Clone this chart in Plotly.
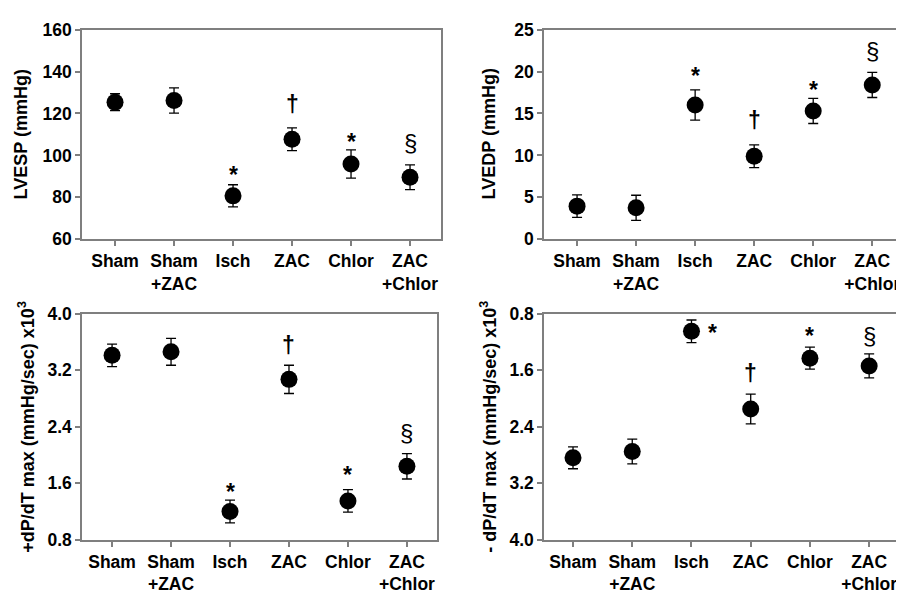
import plotly.graph_objects as go

groups = ["Sham", "Sham<br>+ZAC", "Isch", "ZAC", "Chlor", "ZAC<br>+Chlor"]

lvesp = [125.4, 126.2, 80.7, 107.7, 95.9, 89.6]
lvesp_err = [4.0, 6.0, 5.3, 5.4, 6.7, 5.9]
lvedp = [3.95, 3.75, 16.0, 9.9, 15.3, 18.4]
lvedp_err = [1.35, 1.5, 1.8, 1.35, 1.5, 1.5]
dpdt_pos = [3.41, 3.46, 1.20, 3.07, 1.35, 1.84]
dpdt_pos_err = [0.16, 0.19, 0.16, 0.20, 0.16, 0.18]
dpdt_neg = [2.84, 2.75, 1.05, 2.15, 1.43, 1.54]
dpdt_neg_err = [0.155, 0.175, 0.16, 0.21, 0.155, 0.17]

# significance marks: (group index, symbol, y position)
marks_lvesp = [(2, "*", 92.8), (3, "†", 124.6), (4, "*", 109.0), (5, "§", 106.0)]
marks_lvedp = [(2, "*", 20.1), (3, "†", 14.2), (4, "*", 18.4), (5, "§", 22.5)]
marks_pos = [(2, "*", 1.54), (3, "†", 3.55), (4, "*", 1.79), (5, "§", 2.32)]
marks_neg = [(2, "*", 1.0), (3, "†", 1.64), (4, "*", 1.04), (5, "§", 1.11)]

titles = ["LVESP (mmHg)", "LVEDP (mmHg)",
          "+dP/dT max (mmHg/sec) x10<sup>3</sup>",
          "- dP/dT max (mmHg/sec) x10<sup>3</sup>"]

OFF = 8  # page body margin
W, H = 904 - OFF, 600 - OFF
FONT = "Liberation Sans, Arial, sans-serif"
AX = "#7f7f7f"

panels = [
    dict(vals=lvesp, err=lvesp_err, marks=marks_lvesp, title=titles[0],
         px=(82, 441), py=(20, 237), xr=[-0.56, 5.525], yr=[60, 160],
         tv=[60, 80, 100, 120, 140, 160], fmt=None, tshift=-61),
    dict(vals=lvedp, err=lvedp_err, marks=marks_lvedp, title=titles[1],
         px=(544, 900), py=(20, 237), xr=[-0.56, 5.47], yr=[0, 25],
         tv=[0, 5, 10, 15, 20, 25], fmt=None, tshift=-55),
    dict(vals=dpdt_pos, err=dpdt_pos_err, marks=marks_pos, title=titles[2],
         px=(82, 437), py=(314, 548), xr=[-0.51, 5.51], yr=[0.8, 4.0],
         tv=[0.8, 1.6, 2.4, 3.2, 4.0], fmt=".1f", tshift=-55),
    dict(vals=dpdt_neg, err=dpdt_neg_err, marks=marks_neg, title=titles[3],
         px=(544, 897), py=(314, 548), xr=[-0.49, 5.47], yr=[4.0, 0.8],
         tv=[0.8, 1.6, 2.4, 3.2, 4.0], fmt=".1f", tshift=-55),
]

fig = go.Figure()
layout = dict(width=W, height=H, margin=dict(l=0, r=0, t=0, b=0),
              paper_bgcolor="white", plot_bgcolor="white", showlegend=False,
              font=dict(family=FONT, size=17, color="black", weight="bold"))
annotations = []
xidx = list(range(len(groups)))

for i, p in enumerate(panels, start=1):
    xa = "x" if i == 1 else f"x{i}"
    ya = "y" if i == 1 else f"y{i}"
    fig.add_trace(go.Scatter(
        x=xidx, y=p["vals"], mode="markers", xaxis=xa, yaxis=ya,
        marker=dict(size=17, color="black"),
        error_y=dict(type="data", array=p["err"], visible=True,
                     color="black", thickness=1.3, width=5),
        hoverinfo="skip"))
    xd = [(p["px"][0] - OFF) / W, min(1.0, (p["px"][1] - OFF) / W)]
    yd = [1 - (p["py"][1] - OFF) / H, 1 - (p["py"][0] - OFF) / H]
    common = dict(showline=True, linecolor=AX, linewidth=1.5, mirror=True,
                  ticks="outside", ticklen=5, tickcolor=AX, tickwidth=1.5,
                  showgrid=False, zeroline=False,
                  tickfont=dict(family=FONT, size=17.5, color="black", weight="bold"))
    layout["xaxis" if i == 1 else f"xaxis{i}"] = dict(
        domain=xd, anchor=ya, range=p["xr"], tickmode="array",
        tickvals=xidx, ticktext=groups, **common)
    yax = dict(domain=yd, anchor=xa, range=p["yr"], tickmode="array",
               tickvals=p["tv"], **common)
    if p["fmt"]:
        yax["ticktext"] = [format(v, p["fmt"]) for v in p["tv"]]
    layout["yaxis" if i == 1 else f"yaxis{i}"] = yax

    annotations.append(dict(
        text=p["title"], xref=f"{xa} domain", yref=f"{ya} domain",
        x=0, y=0.5, xshift=p["tshift"], textangle=-90, showarrow=False,
        xanchor="center", yanchor="middle",
        font=dict(family=FONT, size=18, color="black", weight="bold")))

    for gi, sym, yv in p["marks"]:
        xs = 0
        if i == 4 and gi == 2:
            xs = 21
        ys = -5 if sym == "*" else 0
        annotations.append(dict(
            text=sym, xref=xa, yref=ya, x=gi, y=yv, xshift=xs, yshift=ys,
            showarrow=False, xanchor="center", yanchor="middle",
            font=dict(family=FONT, size=24 if sym == "§" else 23, color="black",
                      weight="normal" if sym == "§" else "bold")))

layout["annotations"] = annotations
fig.update_layout(**layout)
fig.write_html("out.html")
